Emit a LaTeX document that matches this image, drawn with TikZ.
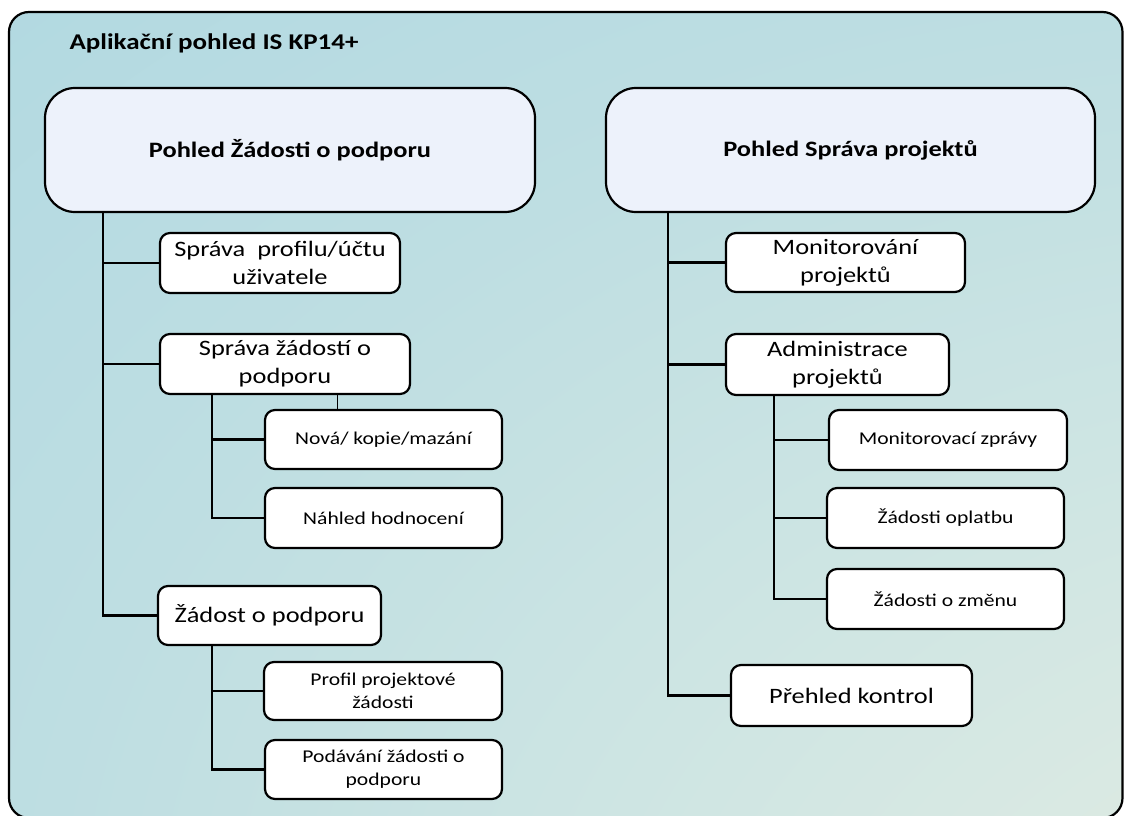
\documentclass[tikz,border=0pt]{standalone}
\usepackage{fontspec}
\setmainfont{Carlito}[FakeStretch=1.2]
\definecolor{bigfill}{HTML}{EDF2FB}
\definecolor{sc0}{HTML}{F2F4DC}
\definecolor{sc1}{HTML}{E3ECE2}
\definecolor{sc2}{HTML}{D0E6E3}
\definecolor{sc3}{HTML}{BEDEE2}
\definecolor{sc4}{HTML}{ADD7E1}
\definecolor{sc5}{HTML}{A7D5E1}
\pgfdeclareradialshading{bgshade}{\pgfpoint{50bp}{-50bp}}{%
  color(0bp)=(sc0); color(15bp)=(sc1); color(35bp)=(sc2); color(55bp)=(sc3);
  color(80bp)=(sc4); color(100bp)=(sc5); color(150bp)=(sc5)}
\tikzset{
  bigbox/.style={draw=black, line width=2.2pt, fill=bigfill, rounded corners=30pt,
    inner sep=0pt, font=\fontsize{22}{28}\selectfont\bfseries},
  box/.style={draw=black, line width=2.2pt, fill=white, rounded corners=10pt,
    inner sep=0pt, align=center, font=\fontsize{22}{28}\selectfont},
  subbox/.style={box, font=\fontsize{18}{23}\selectfont},
  link/.style={draw=black, line width=2.2pt},
  tick/.style={draw=black, line width=0.9pt}
}
\begin{document}
\begin{tikzpicture}[x=1pt, y=-1pt]
\useasboundingbox (0,0) rectangle (1125,816);
\shadedraw[shading=bgshade, draw=black, line width=2.2pt, rounded corners=20pt]
  (9,12) rectangle (1122.5,818);

\node[anchor=base west, font=\fontsize{22.5}{28}\selectfont\bfseries] (title) at (66,50) {Aplikační pohled IS KP14+};

% top-level views
\node[bigbox, minimum width=490pt, minimum height=124pt] (L) at (290,150) {Pohled Žádosti o podporu};
\node[bigbox, minimum width=489pt, minimum height=124pt] (R) at (850.5,150) {Pohled Správa projektů};

% left children
\node[box, minimum width=240pt, minimum height=60pt] (c1) at (280,263) {Správa\ \ profilu/účtu\\uživatele};
\node[box, minimum width=250pt, minimum height=60pt] (c2) at (285,364) {Správa žádostí o\\podporu};
\node[subbox, minimum width=237pt, minimum height=59pt] (g1) at (383.5,439.5) {Nová/ kopie/mazání};
\node[subbox, minimum width=237pt, minimum height=60pt] (g2) at (383.5,518) {Náhled hodnocení};
\node[box, minimum width=223pt, minimum height=59pt] (c3) at (269.5,615.5) {Žádost o podporu};
\node[subbox, minimum width=238pt, minimum height=58pt] (g3) at (383,691) {Profil projektové\\žádosti};
\node[subbox, minimum width=237pt, minimum height=59pt] (g4) at (383.5,769.5) {Podávání žádosti o\\podporu};

% right children
\node[box, minimum width=239pt, minimum height=59pt] (r1) at (845.5,262.5) {Monitorování\\projektů};
\node[box, minimum width=223pt, minimum height=61pt] (r2) at (837.5,364.5) {Administrace\\projektů};
\node[subbox, minimum width=238pt, minimum height=60pt] (rg1) at (948,440) {Monitorovací zprávy};
\node[subbox, minimum width=237pt, minimum height=60pt] (rg2) at (945.5,518) {Žádosti oplatbu};
\node[subbox, minimum width=237pt, minimum height=60pt] (rg3) at (945.5,599) {Žádosti o změnu};
\node[box, minimum width=241pt, minimum height=61pt] (r3) at (851.5,695.5) {Přehled kontrol};

% trunk x positions
\coordinate (tL) at (103,0);
\coordinate (sL) at (212,0);
\coordinate (tR) at (668,0);
\coordinate (sR) at (774,0);
\coordinate (tk) at (337,0);

% left connectors
\draw[link] (L.south -| tL) |- (c3.west);
\draw[link] (tL |- c1.west) -- (c1.west);
\draw[link] (tL |- c2.west) -- (c2.west);
\draw[link] (c2.south -| sL) |- (g2.west);
\draw[link] (sL |- g1.west) -- (g1.west);
\draw[tick] (c2.south -| tk) -- (g1.north -| tk);
\draw[link] (c3.south -| sL) |- (g4.west);
\draw[link] (sL |- g3.west) -- (g3.west);

% right connectors
\draw[link] (R.south -| tR) |- (r3.west);
\draw[link] (tR |- r1.west) -- (r1.west);
\draw[link] (tR |- r2.west) -- (r2.west);
\draw[link] (r2.south -| sR) |- (rg3.west);
\draw[link] (sR |- rg1.west) -- (rg1.west);
\draw[link] (sR |- rg2.west) -- (rg2.west);
\end{tikzpicture}
\end{document}
